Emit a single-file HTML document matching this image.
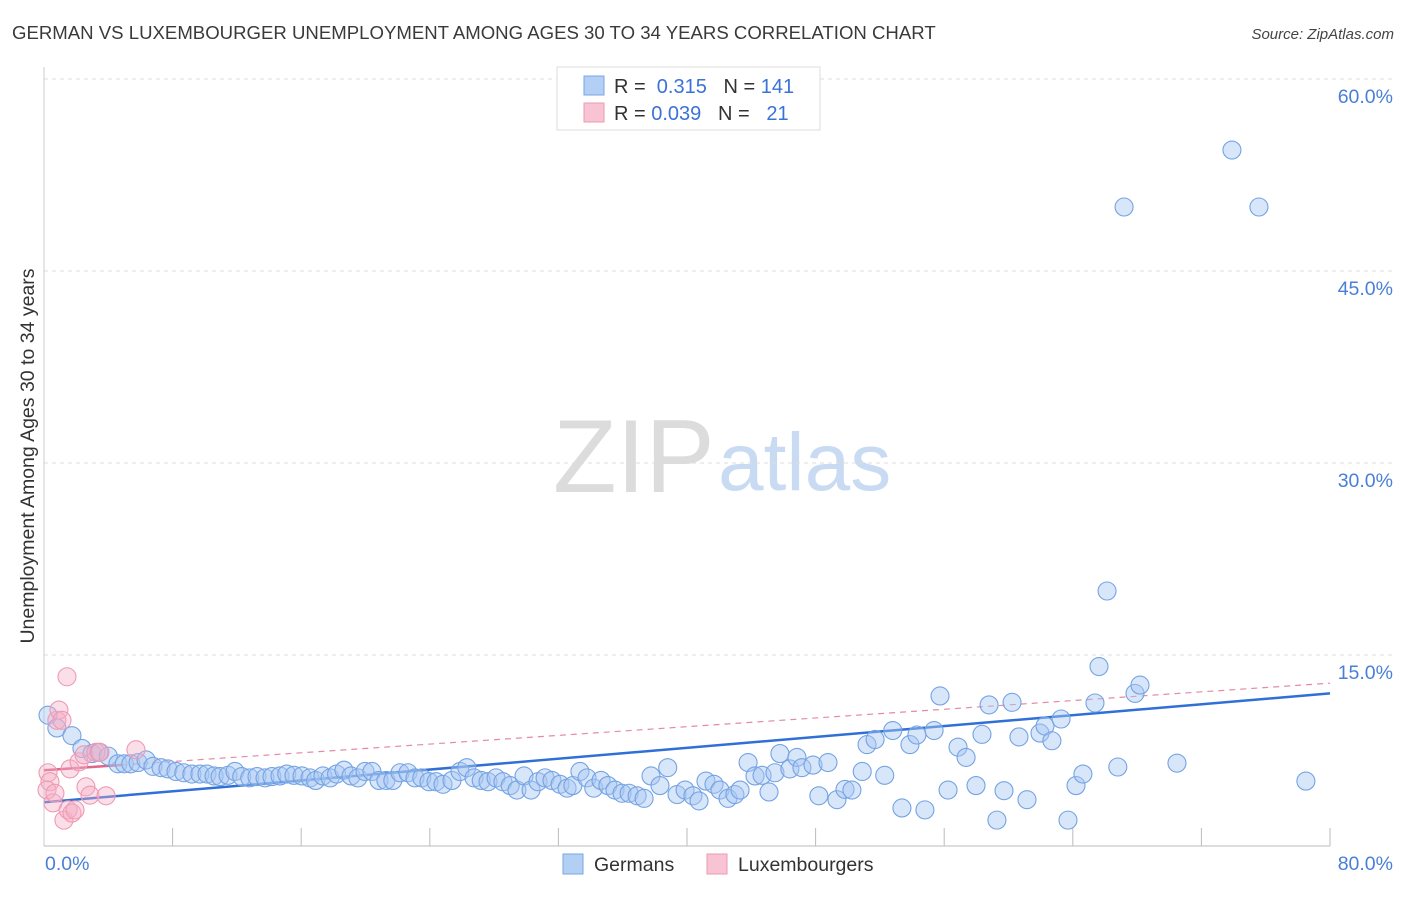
<!DOCTYPE html>
<html><head><meta charset="utf-8"><style>
body{margin:0;background:#fff;font-family:"Liberation Sans",sans-serif;}
svg text{font-family:"Liberation Sans",sans-serif;}
</style></head><body>
<svg id="chart" width="1406" height="892" viewBox="0 0 1406 892" xmlns="http://www.w3.org/2000/svg">
<text x="12" y="39" font-size="18.6" fill="#3a3a3a">GERMAN VS LUXEMBOURGER UNEMPLOYMENT AMONG AGES 30 TO 34 YEARS CORRELATION CHART</text>
<text x="1394" y="39" font-size="15" fill="#444" font-style="italic" text-anchor="end">Source: ZipAtlas.com</text>
<g>
<text x="553" y="492" font-size="104" fill="#dcdcdc" font-family="Liberation Serif,serif">ZIP</text>
<text x="718" y="490" font-size="82" fill="#c9dbf2">atlas</text>
</g>
<g id="grid"></g>
<line x1="44" y1="67" x2="44" y2="846" stroke="#ccc"/>
<line x1="44" y1="846" x2="1330" y2="846" stroke="#bbb"/>
<g id="xticks"></g>
<text transform="translate(34,456) rotate(-90)" font-size="19.5" fill="#333" text-anchor="middle">Unemployment Among Ages 30 to 34 years</text>
<text x="45" y="870" font-size="19.5" fill="#4a7fd6">0.0%</text>
<text x="1393" y="870" font-size="19.5" fill="#4a7fd6" text-anchor="end">80.0%</text>
<g id="lines"></g>
<g id="points"></g>
<g>
<rect x="557" y="67" width="263" height="63" fill="#fff" stroke="#ddd"/>
<rect x="584" y="76" width="20" height="19" fill="#b3cff3" stroke="#7aa6e6"/>
<rect x="584" y="103" width="20" height="19" fill="#f8c3d3" stroke="#ef9ab5"/>
<text x="614" y="93" font-size="20" fill="#333">R = <tspan fill="#3a72d8">&#160;0.315</tspan>&#160;&#160;&#160;N = <tspan fill="#3a72d8">141</tspan></text>
<text x="614" y="120" font-size="20" fill="#333">R = <tspan fill="#3a72d8">0.039</tspan>&#160;&#160;&#160;N = <tspan fill="#3a72d8">&#160;&#160;21</tspan></text>
</g>
<g>
<rect x="563" y="854" width="20" height="20" fill="#b3cff3" stroke="#7aa6e6"/>
<text x="594" y="871" font-size="19.5" fill="#333">Germans</text>
<rect x="707" y="854" width="20" height="20" fill="#f8c3d3" stroke="#ef9ab5"/>
<text x="738" y="871" font-size="19.5" fill="#333">Luxembourgers</text>
</g>
</svg>
<script>
const yTicks=[15,30,45,60];
const xTickVals=[8,16,24,32,40,48,56,64,72,80];
const germansX=[0.25,0.8,1.74,2.36,2.99,3.42,4.0,4.6,5.0,5.4,5.85,6.35,6.78,7.28,7.71,8.21,8.7,9.2,9.7,10.14,10.58,10.95,11.45,11.88,12.3,12.8,13.25,13.75,14.18,14.68,15.1,15.55,16.05,16.55,16.9,17.35,17.8,18.2,18.66,19.1,19.53,19.97,20.4,20.84,21.27,21.7,22.15,22.64,23.08,23.5,23.95,24.39,24.82,25.38,25.88,26.3,26.75,27.2,27.62,28.12,28.55,29.0,29.42,29.86,30.3,30.73,31.17,31.6,32.1,32.54,32.9,33.34,33.78,34.2,34.65,35.08,35.52,35.96,36.4,36.9,37.33,37.76,38.32,38.8,39.38,39.88,40.37,40.75,41.18,41.68,42.05,42.55,42.98,43.3,43.8,44.23,44.67,45.1,45.47,45.78,46.4,46.84,47.15,47.84,48.2,48.77,49.33,49.83,50.26,50.9,51.2,51.7,52.3,52.8,53.37,53.87,54.3,54.8,55.37,55.74,56.24,56.86,57.36,57.98,58.35,58.79,59.28,59.72,60.22,60.65,61.15,61.96,62.27,62.7,63.27,63.7,64.2,64.63,65.38,65.63,66.13,66.8,67.19,67.87,68.18,70.48,73.9,75.58,78.5];
const germansY=[10.3,9.3,8.7,7.7,7.3,7.4,7.1,6.5,6.5,6.5,6.6,6.8,6.3,6.2,6.1,5.9,5.8,5.7,5.7,5.7,5.55,5.5,5.6,5.9,5.5,5.4,5.5,5.4,5.5,5.55,5.7,5.6,5.55,5.4,5.2,5.55,5.4,5.7,6.0,5.55,5.4,5.9,5.9,5.2,5.2,5.2,5.8,5.8,5.4,5.4,5.1,5.1,4.9,5.2,5.9,6.2,5.4,5.2,5.1,5.4,5.1,4.8,4.45,5.55,4.45,5.1,5.4,5.2,4.9,4.6,4.8,5.9,5.4,4.6,5.2,4.8,4.45,4.2,4.2,4.0,3.8,5.55,4.8,6.2,4.1,4.45,4.0,3.6,5.15,4.9,4.45,3.8,4.1,4.45,6.6,5.55,5.6,4.3,5.8,7.3,6.1,7.0,6.2,6.4,4.0,6.6,3.7,4.5,4.45,5.9,8.0,8.4,5.6,9.1,3.05,8.0,8.75,2.9,9.1,11.8,4.45,7.8,7.0,4.8,8.8,11.1,2.1,4.4,11.3,8.6,3.7,8.9,9.45,8.3,10.0,2.1,4.8,5.7,11.25,14.1,20.0,6.25,50.0,12.0,12.65,6.55,54.45,50.0,5.15];
const luxX=[0.25,0.37,0.19,0.56,0.68,0.8,0.93,1.12,1.24,1.43,1.5,1.62,1.74,1.93,2.18,2.49,2.61,2.86,3.23,3.48,3.86,5.72];
const luxY=[5.8,5.1,4.45,3.45,4.2,9.9,10.7,9.9,2.1,13.3,2.9,6.1,2.65,2.9,6.65,7.2,4.7,4.05,7.4,7.4,4.0,7.6];
const germansTrend=[3.5,12.0];
const luxTrend=[6.0,12.8];
const luxSolidEnd=4.8;

const NS='http://www.w3.org/2000/svg';
const X0=44,X1=1330,Y0=847,PPY=12.8;
function sx(v){return X0+(X1-X0)*v/80;}
function sy(v){return Y0-v*PPY;}
function mk(tag,attrs,parent){const e=document.createElementNS(NS,tag);for(const k in attrs)e.setAttribute(k,attrs[k]);document.getElementById(parent).appendChild(e);return e;}

yTicks.forEach(t=>{
  const l=mk('line',{x1:44,x2:1394,y1:sy(t),y2:sy(t),stroke:'#ddd','stroke-dasharray':'4,4'},'grid');
  
  
  const tx=mk('text',{x:1393,y:sy(t)+24,'font-size':19.5,fill:'#4a7fd6','text-anchor':'end'},'grid');
  tx.textContent=t.toFixed(1)+'%';
  
  
});
xTickVals.forEach(t=>{
  const l=mk('line',{x1:sx(t),x2:sx(t),y1:828,y2:846,stroke:'#bbb'},'xticks');
  
  
});
germansX.forEach((v,i)=>{
  const c=mk('circle',{cx:sx(v),cy:sy(germansY[i]),r:9,fill:'rgba(168,200,242,0.45)',stroke:'#74a3e4','stroke-width':1.1},'points');
  
  
});
luxX.forEach((v,i)=>{
  const c=mk('circle',{cx:sx(v),cy:sy(luxY[i]),r:9,fill:'rgba(245,175,198,0.4)',stroke:'#ee9ab4','stroke-width':1.1},'points');
  
  
});
const gl=mk('line',{x1:sx(0),y1:sy(germansTrend[0]),x2:sx(80),y2:sy(germansTrend[1]),stroke:'#2f6fd6','stroke-width':2.5},'lines');


const ly=v=>luxTrend[0]+(luxTrend[1]-luxTrend[0])*v/80;
const ld=mk('line',{x1:sx(0),y1:sy(luxTrend[0]),x2:sx(80),y2:sy(luxTrend[1]),stroke:'#e48aa6','stroke-width':1.2,'stroke-dasharray':'6,5'},'lines');


const ls=mk('line',{x1:sx(0),y1:sy(luxTrend[0]),x2:sx(luxSolidEnd),y2:sy(ly(luxSolidEnd)),stroke:'#e0668c','stroke-width':2.5},'lines');


</script>
</body></html>
